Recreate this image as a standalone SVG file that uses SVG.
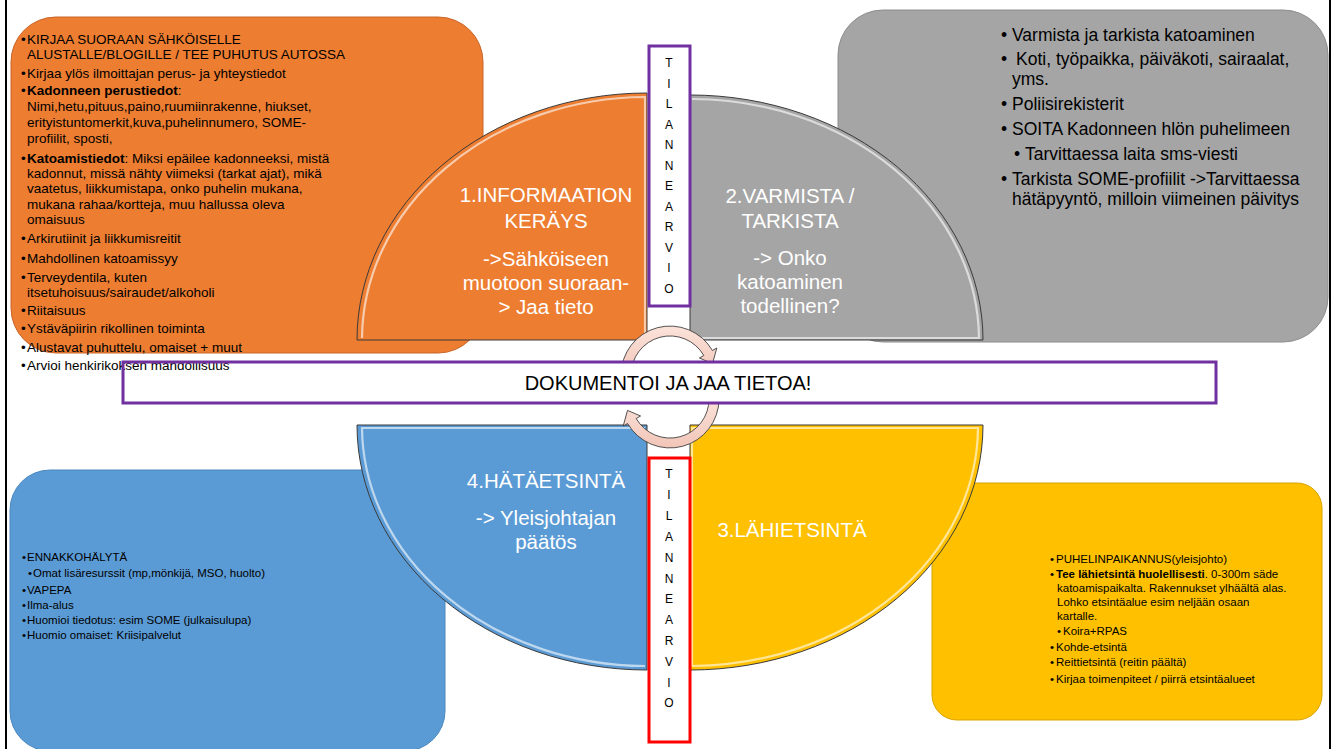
<svg xmlns="http://www.w3.org/2000/svg" width="1336" height="749" viewBox="0 0 1336 749">
<style>
.t{font-family:"Liberation Sans",Arial,sans-serif;}
.ob{font-size:13.5px;fill:#000;}
.gb{font-size:17.5px;fill:#000;}
.sb{font-size:11.5px;fill:#000;}
.q{font-size:20.5px;fill:#fff;text-anchor:middle;}
.tl{font-size:12px;fill:#000;text-anchor:middle;}
.b{font-weight:bold;}
.hl{fill:none;stroke:#fff;stroke-opacity:0.6;stroke-width:2.2;}
.qo{stroke:#3a3a3a;stroke-width:1;}
</style>
<defs>
<linearGradient id="arr" x1="0" y1="0" x2="0" y2="1">
<stop offset="0" stop-color="#fbe3da"/>
<stop offset="1" stop-color="#f2c5b8"/>
</linearGradient>
<clipPath id="boxout">
<rect x="0" y="0" width="1336" height="362"/>
<rect x="0" y="403" width="1336" height="346"/>
</clipPath>
</defs>
<rect width="1336" height="749" fill="#fff"/>
<line x1="6" y1="0" x2="6" y2="749" stroke="#000" stroke-width="2"/>
<line x1="1330" y1="0" x2="1330" y2="749" stroke="#000" stroke-width="2"/>

<g id="box-info-gather">
<rect x="11" y="17" width="472" height="336" rx="45" fill="#ed7d31" stroke="#c8652a" stroke-width="1"/>
<text class="t ob" y="44"><tspan x="21">•</tspan><tspan x="27">KIRJAA SUORAAN SÄHKÖISELLE</tspan></text>
<text class="t ob" x="27" y="59">ALUSTALLE/BLOGILLE / TEE PUHUTUS AUTOSSA</text>
<text class="t ob" y="78"><tspan x="21">•</tspan><tspan x="27">Kirjaa ylös ilmoittajan perus- ja yhteystiedot</tspan></text>
<text class="t ob" y="95"><tspan x="21">•</tspan><tspan x="27" class="b">Kadonneen perustiedot</tspan><tspan>:</tspan></text>
<text class="t ob" x="27" y="111">Nimi,hetu,pituus,paino,ruumiinrakenne, hiukset,</text>
<text class="t ob" x="27" y="127">erityistuntomerkit,kuva,puhelinnumero, SOME-</text>
<text class="t ob" x="27" y="143">profiilit, sposti,</text>
<text class="t ob" y="163"><tspan x="21">•</tspan><tspan x="27" class="b">Katoamistiedot</tspan><tspan>: Miksi epäilee kadonneeksi, mistä</tspan></text>
<text class="t ob" x="27" y="178">kadonnut, missä nähty viimeksi (tarkat ajat), mikä</text>
<text class="t ob" x="27" y="193">vaatetus, liikkumistapa, onko puhelin mukana,</text>
<text class="t ob" x="27" y="209">mukana rahaa/kortteja, muu hallussa oleva</text>
<text class="t ob" x="27" y="224">omaisuus</text>
<text class="t ob" y="243"><tspan x="21">•</tspan><tspan x="27">Arkirutiinit ja liikkumisreitit</tspan></text>
<text class="t ob" y="263"><tspan x="21">•</tspan><tspan x="27">Mahdollinen katoamissyy</tspan></text>
<text class="t ob" y="282"><tspan x="21">•</tspan><tspan x="27">Terveydentila, kuten</tspan></text>
<text class="t ob" x="27" y="297">itsetuhoisuus/sairaudet/alkoholi</text>
<text class="t ob" y="315"><tspan x="21">•</tspan><tspan x="27">Riitaisuus</tspan></text>
<text class="t ob" y="333"><tspan x="21">•</tspan><tspan x="27">Ystäväpiirin rikollinen toiminta</tspan></text>
<text class="t ob" y="352"><tspan x="21">•</tspan><tspan x="27">Alustavat puhuttelu, omaiset + muut</tspan></text>
<text class="t ob" y="370"><tspan x="21">•</tspan><tspan x="27">Arvioi henkirikoksen mahdollisuus</tspan></text>
</g>

<g id="box-verify">
<rect x="838" y="10" width="490" height="332" rx="45" fill="#a5a5a5" stroke="#8c8c8c" stroke-width="1"/>
<text class="t gb" y="41"><tspan x="1001">•</tspan><tspan x="1012">Varmista ja tarkista katoaminen</tspan></text>
<text class="t gb" y="65"><tspan x="1001">•</tspan><tspan x="1016">Koti, työpaikka, päiväkoti, sairaalat,</tspan></text>
<text class="t gb" x="1012" y="85">yms.</text>
<text class="t gb" y="110"><tspan x="1001">•</tspan><tspan x="1012">Poliisirekisterit</tspan></text>
<text class="t gb" y="135"><tspan x="1001">•</tspan><tspan x="1012">SOITA Kadonneen hlön puhelimeen</tspan></text>
<text class="t gb" y="160"><tspan x="1014">•</tspan><tspan x="1025">Tarvittaessa laita sms-viesti</tspan></text>
<text class="t gb" y="185"><tspan x="1001">•</tspan><tspan x="1012">Tarkista SOME-profiilit -&gt;Tarvittaessa</tspan></text>
<text class="t gb" x="1012" y="205">hätäpyyntö, milloin viimeinen päivitys</text>
</g>

<g id="box-emergency">
<rect x="10" y="470" width="435" height="281" rx="40" fill="#5b9bd5" stroke="#4a87bf" stroke-width="1"/>
<text class="t sb" y="561"><tspan x="22">•</tspan><tspan x="27">ENNAKKOHÄLYTÄ</tspan></text>
<text class="t sb" y="577"><tspan x="28">•</tspan><tspan x="33">Omat lisäresurssit (mp,mönkijä, MSO, huolto)</tspan></text>
<text class="t sb" y="594"><tspan x="22">•</tspan><tspan x="27">VAPEPA</tspan></text>
<text class="t sb" y="609"><tspan x="22">•</tspan><tspan x="27">Ilma-alus</tspan></text>
<text class="t sb" y="624"><tspan x="22">•</tspan><tspan x="27">Huomioi tiedotus: esim SOME (julkaisulupa)</tspan></text>
<text class="t sb" y="639"><tspan x="22">•</tspan><tspan x="27">Huomio omaiset: Kriisipalvelut</tspan></text>
</g>

<g id="box-near-search">
<rect x="932" y="483" width="390" height="237" rx="25" fill="#ffc000" stroke="#d9a300" stroke-width="1"/>
<text class="t sb" y="563"><tspan x="1050">•</tspan><tspan x="1056">PUHELINPAIKANNUS(yleisjohto)</tspan></text>
<text class="t sb" y="578"><tspan x="1050">•</tspan><tspan x="1056" class="b">Tee lähietsintä huolellisesti</tspan><tspan>. 0-300m säde</tspan></text>
<text class="t sb" x="1057" y="592">katoamispaikalta. Rakennukset ylhäältä alas.</text>
<text class="t sb" x="1057" y="606">Lohko etsintäalue esim neljään osaan</text>
<text class="t sb" x="1057" y="620">kartalle.</text>
<text class="t sb" y="635"><tspan x="1057">•</tspan><tspan x="1063">Koira+RPAS</tspan></text>
<text class="t sb" y="651"><tspan x="1050">•</tspan><tspan x="1056">Kohde-etsintä</tspan></text>
<text class="t sb" y="666"><tspan x="1050">•</tspan><tspan x="1056">Reittietsintä (reitin päältä)</tspan></text>
<text class="t sb" y="683"><tspan x="1050">•</tspan><tspan x="1056">Kirjaa toimenpiteet / piirrä etsintäalueet</tspan></text>
</g>

<g id="step1">
<path class="qo" d="M647 340 L357 340 A290 247 0 0 1 647 93 Z" fill="#ed7d31"/>
<path class="hl" d="M362 338 A285 243 0 0 1 645 97 L645 338" stroke="#ffe4c8"/>
<text class="t q" x="546" y="202">1.INFORMAATION</text>
<text class="t q" x="546" y="228">KERÄYS</text>
<text class="t q" x="546" y="266">-&gt;Sähköiseen</text>
<text class="t q" x="546" y="290">muotoon suoraan-</text>
<text class="t q" x="546" y="314">&gt; Jaa tieto</text>
</g>

<g id="step2">
<path class="qo" d="M690 340 L690 95 A293 245 0 0 1 983 340 Z" fill="#a5a5a5"/>
<path class="hl" d="M692 99 A288 241 0 0 1 979 338 L692 338"/>
<text class="t q" x="790" y="203">2.VARMISTA /</text>
<text class="t q" x="790" y="228">TARKISTA</text>
<text class="t q" x="790" y="265">-&gt; Onko</text>
<text class="t q" x="790" y="289">katoaminen</text>
<text class="t q" x="790" y="313">todellinen?</text>
</g>

<g id="step4">
<path class="qo" d="M647 425 L357 425 A290 245 0 0 0 647 670 Z" fill="#5b9bd5"/>
<path class="hl" d="M645 428 L362 428 A285 240 0 0 0 645 666" stroke="#d6ebff"/>
<text class="t q" x="546" y="488">4.HÄTÄETSINTÄ</text>
<text class="t q" x="546" y="525">-&gt; Yleisjohtajan</text>
<text class="t q" x="546" y="549">päätös</text>
</g>

<g id="step3">
<path class="qo" d="M690 425 L983 425 A293 245 0 0 1 690 670 Z" fill="#ffc000"/>
<path class="hl" d="M692 666 L692 428 L978 428 A288 240 0 0 1 692 666" stroke="#fff6b0"/>
<text class="t q" x="792" y="537">3.LÄHIETSINTÄ</text>
</g>

<g id="assessment-top">
<rect x="649" y="46" width="41" height="260" fill="#fff" stroke="#7030a0" stroke-width="3"/>
<text class="t tl" x="669" y="67">T</text>
<text class="t tl" x="669" y="87.5">I</text>
<text class="t tl" x="669" y="108">L</text>
<text class="t tl" x="669" y="128.5">A</text>
<text class="t tl" x="669" y="149">N</text>
<text class="t tl" x="669" y="169.5">N</text>
<text class="t tl" x="669" y="190">E</text>
<text class="t tl" x="669" y="210.5">A</text>
<text class="t tl" x="669" y="231">R</text>
<text class="t tl" x="669" y="251.5">V</text>
<text class="t tl" x="669" y="272">I</text>
<text class="t tl" x="669" y="292.5">O</text>
</g>

<g id="assessment-bottom">
<rect x="649" y="458" width="41" height="284" fill="#fff" stroke="#ff0000" stroke-width="3"/>
<text class="t tl" x="669" y="478">T</text>
<text class="t tl" x="669" y="499">I</text>
<text class="t tl" x="669" y="520">L</text>
<text class="t tl" x="669" y="541">A</text>
<text class="t tl" x="669" y="562">N</text>
<text class="t tl" x="669" y="583">N</text>
<text class="t tl" x="669" y="603">E</text>
<text class="t tl" x="669" y="624">A</text>
<text class="t tl" x="669" y="645">R</text>
<text class="t tl" x="669" y="666">V</text>
<text class="t tl" x="669" y="687">I</text>
<text class="t tl" x="669" y="707">O</text>
</g>

<g id="connectors" clip-path="url(#boxout)" fill="url(#arr)" stroke="#404040" stroke-width="0.9">
<path d="M621 375 A49 49 0 0 1 712.4 350.5 L716.8 348 L712.5 363.6 L699.4 358 L703.8 355.5 A39 39 0 0 0 631 375 Z"/>
<path d="M719 399 A49 49 0 0 1 627.6 423.5 L623.2 426 L627.5 410.4 L640.6 416 L636.2 418.5 A39 39 0 0 0 709 399 Z"/>
</g>

<g id="document">
<rect x="123" y="362" width="1093" height="41" fill="none" stroke="#7030a0" stroke-width="3"/>
<text class="t" x="668" y="390" font-size="20" text-anchor="middle" fill="#000">DOKUMENTOI JA JAA TIETOA!</text>
</g>
</svg>
